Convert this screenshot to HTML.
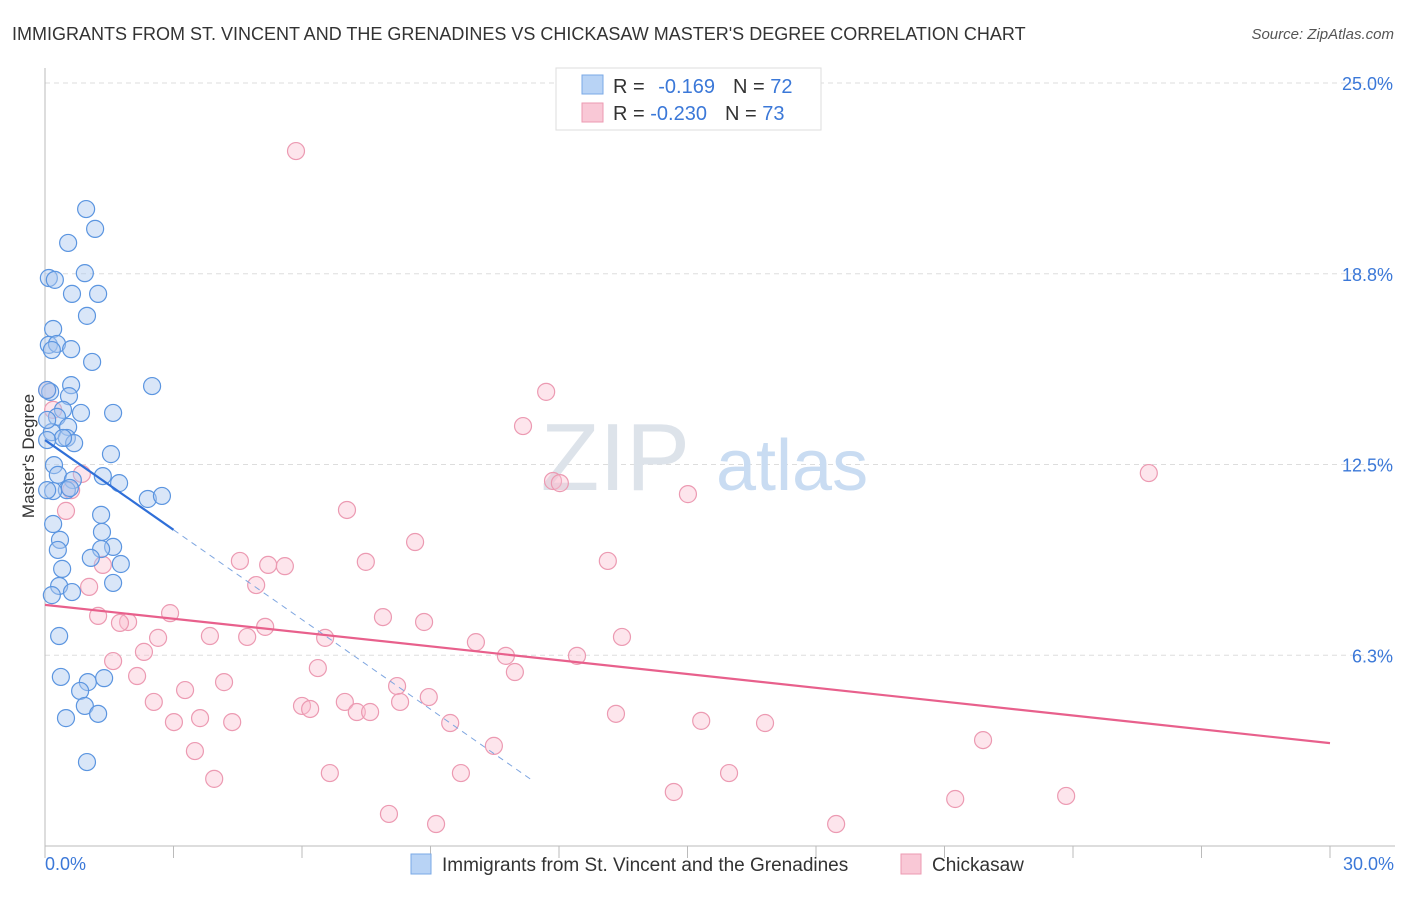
<!DOCTYPE html>
<html><head><meta charset="utf-8"><style>
body{margin:0;background:#fff;font-family:"Liberation Sans",sans-serif;}
svg text{font-family:"Liberation Sans",sans-serif;}
</style></head><body>
<svg id="chart" width="1406" height="892" viewBox="0 0 1406 892">
<text x="12" y="40" font-size="18" fill="#333">IMMIGRANTS FROM ST. VINCENT AND THE GRENADINES VS CHICKASAW MASTER'S DEGREE CORRELATION CHART</text>
<text x="1394" y="39" font-size="15" fill="#555" font-style="italic" text-anchor="end">Source: ZipAtlas.com</text>
<g id="grid"></g>
<text x="690" y="490" font-size="96" fill="#dde3ea" text-anchor="end" font-family="Liberation Serif">ZIP</text>
<text x="716" y="490" font-size="72" fill="#c9dcf2">atlas</text>
<g id="marks"></g>
<text transform="translate(34,456) rotate(-90)" font-size="17" fill="#333" text-anchor="middle">Master's Degree</text>
<g>
<rect x="556" y="68" width="265" height="62" fill="#fff" stroke="#ddd"/>
<rect x="582" y="75" width="21" height="19" fill="#b8d3f5" stroke="#7aa8e6"/>
<text x="613" y="93" font-size="20" fill="#333">R = <tspan fill="#3b78d8" dx="8">-0.169</tspan><tspan dx="18" fill="#333">N = </tspan><tspan fill="#3b78d8">72</tspan></text>
<rect x="582" y="103" width="21" height="19" fill="#f9c8d6" stroke="#ec9ab2"/>
<text x="613" y="120" font-size="20" fill="#333">R = <tspan fill="#3b78d8">-0.230</tspan><tspan dx="18" fill="#333">N = </tspan><tspan fill="#3b78d8">73</tspan></text>
</g>
<g>
<rect x="411" y="854" width="20" height="20" fill="#b8d3f5" stroke="#7aa8e6"/>
<text x="442" y="871" font-size="19" fill="#333">Immigrants from St. Vincent and the Grenadines</text>
<rect x="901" y="854" width="20" height="20" fill="#f9c8d6" stroke="#ec9ab2"/>
<text x="932" y="871" font-size="19" fill="#333">Chickasaw</text>
</g>
</svg>
<script>
const yTicks=[6.25,12.5,18.75,25];
const yTickLabels=["6.3%","12.5%","18.8%","25.0%"];
const xTickLabels=["0.0%","30.0%"];
const bluePx=[[86,209],[95,229],[68,243],[49,278],[55,280],[85,273],[72,294],[98,294],[87,316],[53,329],[49,345],[57,344],[71,349],[52,350],[92,362],[152,386],[71,385],[50,392],[69,396],[63,410],[81,413],[113,413],[57,417],[68,427],[52,432],[67,438],[74,443],[54,465],[111,454],[58,475],[73,480],[67,490],[119,483],[148,499],[162,496],[53,491],[103,476],[101,515],[53,524],[102,532],[60,540],[58,550],[113,547],[101,549],[91,558],[121,564],[62,569],[113,583],[59,586],[72,592],[52,595],[59,636],[61,677],[88,682],[104,678],[80,691],[85,706],[66,718],[98,714],[87,762],[63,438],[47,390],[47,440],[47,420],[47,490],[70,488]];
const pinkPx=[[296,151],[546,392],[523,426],[1149,473],[553,481],[560,483],[688,494],[347,510],[415,542],[240,561],[268,565],[285,566],[366,562],[608,561],[256,585],[170,613],[98,616],[383,617],[424,622],[128,622],[120,623],[265,627],[622,637],[158,638],[210,636],[247,637],[325,638],[476,642],[144,652],[506,656],[577,656],[318,668],[515,672],[113,661],[137,676],[224,682],[185,690],[397,686],[429,697],[154,702],[345,702],[302,706],[310,709],[400,702],[357,712],[370,712],[616,714],[174,722],[200,718],[232,722],[450,723],[701,721],[765,723],[494,746],[195,751],[983,740],[461,773],[330,773],[729,773],[214,779],[674,792],[955,799],[1066,796],[389,814],[436,824],[836,824],[82,474],[71,490],[66,511],[103,565],[89,587],[47,390],[53,410]];
// convert read pixel positions into data values (x %, y %)
const blueX=bluePx.map(p=>+((p[0]-45)/1285*30).toFixed(2));
const blueY=bluePx.map(p=>+((846-p[1])/763*25).toFixed(2));
const pinkX=pinkPx.map(p=>+((p[0]-45)/1285*30).toFixed(2));
const pinkY=pinkPx.map(p=>+((846-p[1])/763*25).toFixed(2));
const blueTrend=[13.3,-0.98];   // intercept, slope
const pinkTrend=[7.9,-0.151];
const blueSolidEnd=3.0, blueDashEnd=11.4;

const X0=45,X1=1330,Y0=846,Y25=83;
const sx=v=>X0+v/30*(X1-X0);
const sy=v=>Y0-v/25*(Y0-Y25);
const NS="http://www.w3.org/2000/svg";
const grid=document.getElementById('grid'), marks=document.getElementById('marks');
function mk(tag,attrs,parent){const e=document.createElementNS(NS,tag);for(const k in attrs)e.setAttribute(k,attrs[k]);parent.appendChild(e);return e;}
yTicks.forEach((t,i)=>{
  const l=mk('line',{x1:X0,x2:1395,y1:sy(t),y2:sy(t),stroke:'#ddd','stroke-dasharray':'5,4'},grid);
  
  
  const tx=mk('text',{x:1393,y:sy(t)+7,'font-size':18,fill:'#3b78d8','text-anchor':'end'},grid);
  tx.textContent=yTickLabels[i];
  
  
});
const ax=mk('line',{x1:X0,x2:X0,y1:68,y2:Y0,stroke:'#bbb'},grid);


const bx=mk('line',{x1:X0,x2:1395,y1:Y0,y2:Y0,stroke:'#bbb'},grid);


for(let i=0;i<=10;i++){const t=mk('line',{x1:sx(i*3),x2:sx(i*3),y1:Y0,y2:Y0+12,stroke:'#bbb'},grid);
  
  }
[[0,45,'start'],[30,1394,'end']].forEach((a,i)=>{const t=mk('text',{x:a[1],y:870,'font-size':18,fill:'#3b78d8','text-anchor':a[2]},grid);t.textContent=xTickLabels[i];
  
  });
pinkX.forEach((x,i)=>{const c=mk('circle',{cx:sx(x),cy:sy(pinkY[i]),r:8.5,fill:'rgba(249,190,208,0.4)',stroke:'#ec9ab2','stroke-width':1.2},marks);
  
  });
blueX.forEach((x,i)=>{const c=mk('circle',{cx:sx(x),cy:sy(blueY[i]),r:8.5,fill:'rgba(170,200,240,0.45)',stroke:'#5b95e0','stroke-width':1.2},marks);
  
  });
const bl=mk('line',{x1:sx(0),y1:sy(blueTrend[0]),x2:sx(blueSolidEnd),y2:sy(blueTrend[0]+blueTrend[1]*blueSolidEnd),stroke:'#2f6fd8','stroke-width':2.2},marks);


const bd=mk('line',{x1:sx(blueSolidEnd),y1:sy(blueTrend[0]+blueTrend[1]*blueSolidEnd),x2:sx(blueDashEnd),y2:sy(blueTrend[0]+blueTrend[1]*blueDashEnd),stroke:'#7fa6e0','stroke-width':1,'stroke-dasharray':'6,5'},marks);


const pl=mk('line',{x1:sx(0),y1:sy(pinkTrend[0]),x2:sx(30),y2:sy(pinkTrend[0]+pinkTrend[1]*30),stroke:'#e8608c','stroke-width':2.2},marks);


</script>
</body></html>
